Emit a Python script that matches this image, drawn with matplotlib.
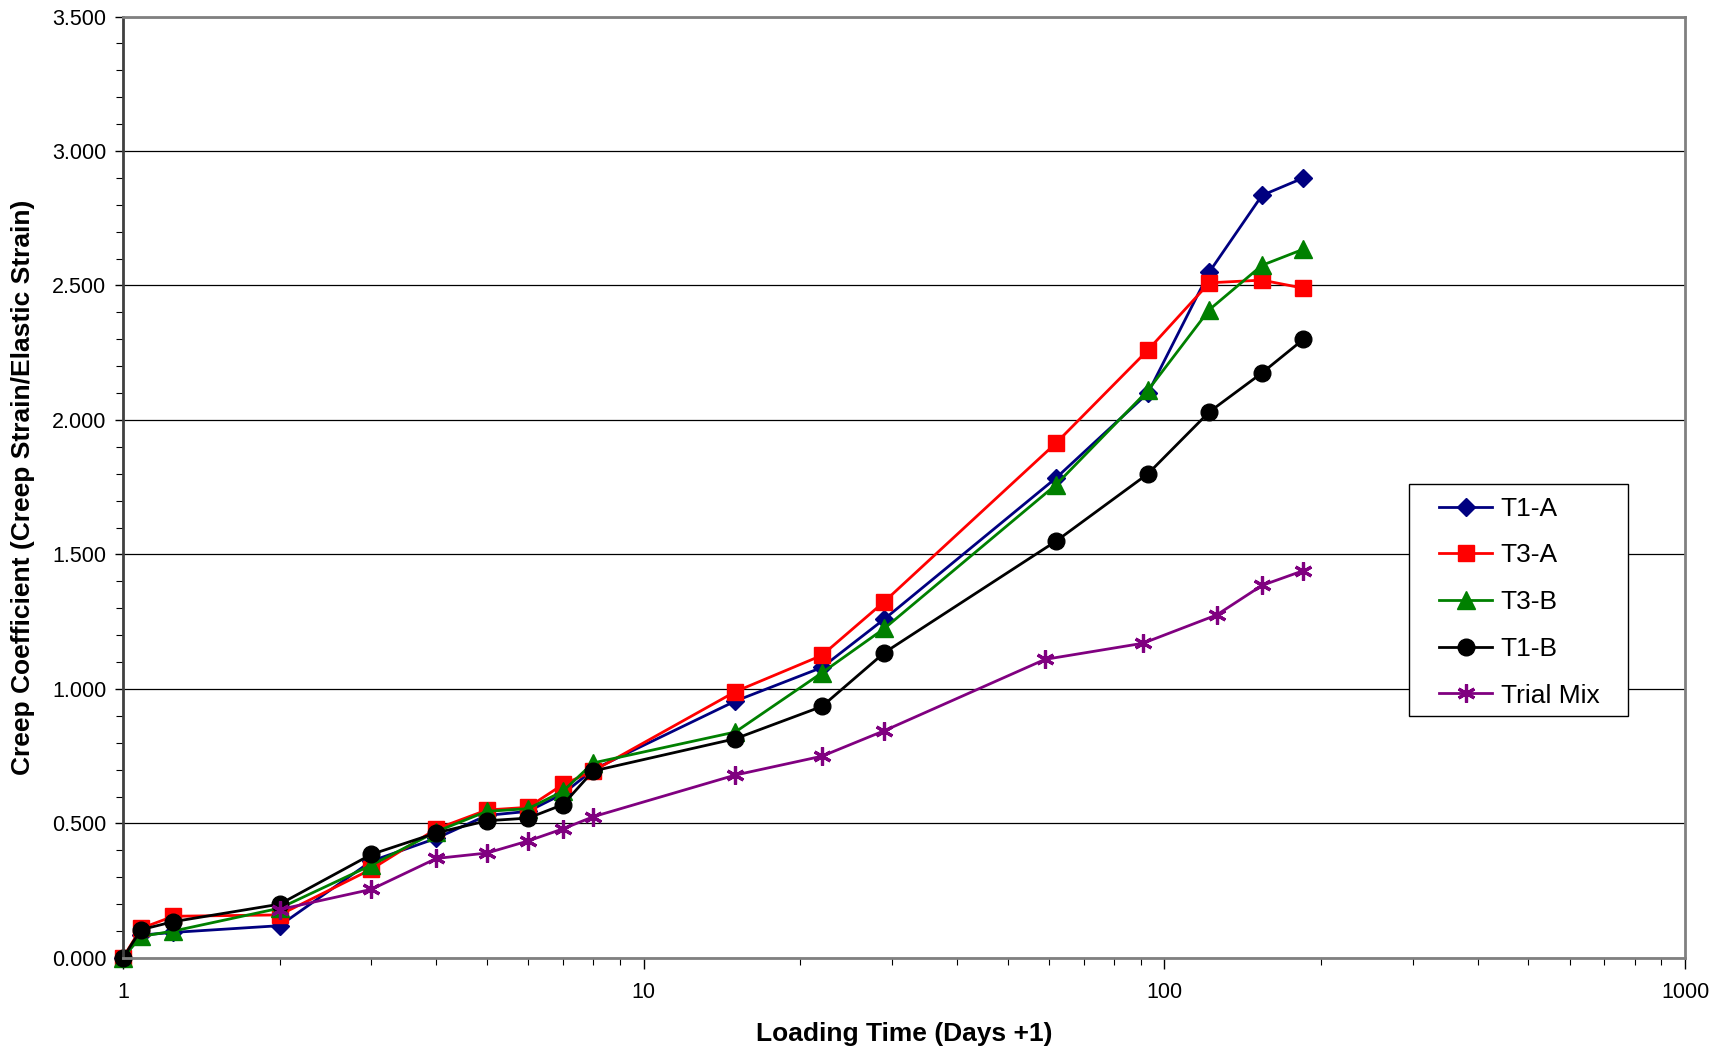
import matplotlib
matplotlib.use("Agg")
import matplotlib.pyplot as plt
from matplotlib.patches import Rectangle
from matplotlib.ticker import FixedLocator, MultipleLocator, FormatStrFormatter, NullFormatter

plt.rcParams['font.family'] = ['Liberation Sans', 'DejaVu Sans']

# loading time (days + 1)
days = [1, 1.083, 1.25, 2, 3, 4, 5, 6, 7, 8, 15, 22, 29, 62, 93, 122, 154, 185]
days_trial = [2, 3, 4, 5, 6, 7, 8, 15, 22, 29, 59, 91, 126, 154, 185]

t1a = [0, 0.085, 0.095, 0.12, 0.36, 0.445, 0.53, 0.545, 0.61, 0.70, 0.955, 1.08, 1.26, 1.785, 2.10, 2.55, 2.835, 2.90]
t3a = [0, 0.11, 0.155, 0.16, 0.33, 0.48, 0.55, 0.56, 0.645, 0.695, 0.99, 1.125, 1.325, 1.915, 2.26, 2.51, 2.52, 2.49]
t3b = [0, 0.08, 0.10, 0.185, 0.345, 0.47, 0.545, 0.555, 0.62, 0.725, 0.84, 1.06, 1.225, 1.76, 2.11, 2.41, 2.575, 2.635]
t1b = [0, 0.105, 0.135, 0.20, 0.385, 0.465, 0.51, 0.52, 0.57, 0.695, 0.815, 0.935, 1.135, 1.55, 1.80, 2.03, 2.175, 2.30]
trial = [0.18, 0.255, 0.37, 0.39, 0.435, 0.48, 0.525, 0.68, 0.75, 0.845, 1.11, 1.17, 1.275, 1.385, 1.44]

fig = plt.figure(figsize=(17.24, 10.52), dpi=100)
ax = fig.add_axes([0.0713, 0.0894, 0.9061, 0.8949])

lw = 2.0
ax.plot(days, t1a, color='#000080', marker='D', markersize=9.5, lw=lw, label='T1-A', clip_on=False)
ax.plot(days, t3a, color='#FF0000', marker='s', markersize=11.5, lw=lw, label='T3-A', clip_on=False)
ax.plot(days, t3b, color='#008000', marker='^', markersize=12.5, lw=lw, label='T3-B', clip_on=False)
ax.plot(days, t1b, color='#000000', marker='o', markersize=12, lw=lw, label='T1-B', clip_on=False)
ax.plot(days_trial, trial, color='#800080', marker=(6, 2, 0), markersize=13, markeredgewidth=2.3,
        lw=lw, label='Trial Mix', clip_on=False)

ax.set_xscale('log')
ax.set_xlim(1, 1000)
ax.set_ylim(0, 3.5)

ax.xaxis.set_major_locator(FixedLocator([1, 10, 100, 1000]))
ax.set_xticklabels(['1', '10', '100', '1000'])
ax.xaxis.set_minor_formatter(NullFormatter())
ax.yaxis.set_major_locator(MultipleLocator(0.5))
ax.yaxis.set_minor_locator(MultipleLocator(0.1))
ax.yaxis.set_major_formatter(FormatStrFormatter('%.3f'))

ax.tick_params(axis='both', which='both', direction='out', colors='black', labelsize=15.5)
ax.tick_params(axis='y', which='major', length=6, width=1, pad=6)
ax.tick_params(axis='y', which='minor', length=5, width=0.8)
ax.tick_params(axis='x', which='major', length=8, width=1, pad=9)
ax.tick_params(axis='x', which='minor', length=5, width=0.8)

ax.grid(axis='y', which='major', color='black', lw=0.9)
ax.set_axisbelow(True)

for side in ['top', 'right', 'bottom']:
    ax.spines[side].set_color('#808080')
    ax.spines[side].set_linewidth(2)
ax.spines['left'].set_color('#404040')
ax.spines['left'].set_linewidth(2)

lab_font = dict(family=['Liberation Sans Narrow', 'Liberation Sans', 'DejaVu Sans'], weight='bold', size=19)
ax.set_xlabel('Loading Time (Days +1)', labelpad=14, **lab_font)
ax.set_ylabel('Creep Coefficient (Creep Strain/Elastic Strain)', labelpad=12, **lab_font)

# legend box drawn separately so the padding matches the original
box = Rectangle((0.823, 0.2573), 0.9638 - 0.823, 0.5037 - 0.2573, transform=ax.transAxes,
                facecolor='white', edgecolor='black', lw=1, zorder=9, clip_on=False)
ax.add_patch(box)
leg = ax.legend(loc='upper left', bbox_to_anchor=(0.8427, 0.4899), fontsize=19,
                frameon=False, handlelength=2.0, handletextpad=0.33, labelspacing=0.86,
                borderpad=0, borderaxespad=0)
leg.set_zorder(10)

fig.savefig('out.png', dpi=100)
